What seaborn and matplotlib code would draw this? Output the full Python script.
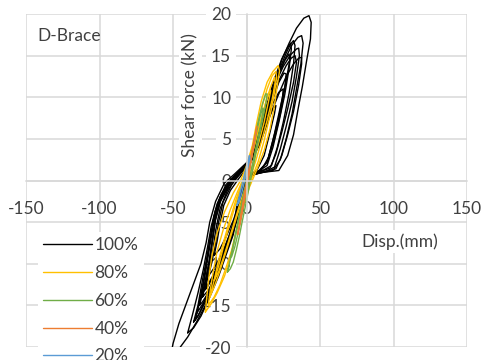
import matplotlib
matplotlib.use("Agg")
import matplotlib.pyplot as plt
import seaborn as sns
import pandas as pd

# ---------------- data ----------------
levels = ["100%", "80%", "60%", "40%", "20%"]
colors = ["#000000", "#FFC000", "#70AD47", "#ED7D31", "#5B9BD5"]

x_ticks = [-150, -100, -50, 0, 50, 100, 150]
y_ticks = [-20, -15, -10, -5, 0, 5, 10, 15, 20]

# 100% cycles (displacement mm / shear force kN)
d100_1 = [-52, -50, -46, -41, -36, -31, -27.5, -25, -21, -15, -8, -2, 4, 8, 12, 16, 20, 24, 29, 34,
          39, 42.5, 44, 43.5, 41, 38, 35, 32, 28, 22, 12, 3, -3, -6, -8.5, -12, -17, -22, -28, -34,
          -40, -45, -49, -52]
f100_1 = [-21.5, -19.6, -17.2, -14.8, -12.4, -10, -7.5, -5, -2.5, -0.3, 0.8, 1.8, 2.8, 4.5, 7, 9.5, 12, 14.5, 16.5, 18.3,
          19.5, 19.8, 19, 17, 14.5, 11.3, 8.5, 5.5, 3, 1.2, 1, 0.7, -0.5, -2.5, -5, -7.5, -10, -12.5, -15, -17,
          -18.8, -20, -21.3, -21.5]
d100_2 = [-40, -37, -33, -29.5, -26.5, -24, -20, -14, -7, 0, 6, 11, 16, 21, 26, 31, 35, 37.5,
          38.5, 37, 34, 31, 27, 23, 18, 9, 1, -3, -5.5, -9, -14, -19, -25, -31, -36, -40]
f100_2 = [-18.3, -16.3, -13.5, -10.8, -8, -5.5, -2.8, -0.5, 0.8, 2, 4.2, 7.2, 10, 12.5, 14.5, 16.3, 17.2, 17.4,
          16.5, 14, 11, 8, 5, 2.5, 1.2, 0.9, 0.5, -1, -3.5, -6.5, -9, -11.5, -14, -16.3, -17.7, -18.3]
d100_3 = [-36, -33, -30, -27, -24.5, -22, -18, -12, -5, 1, 6, 10, 15, 20, 25, 30, 34, 35.5,
          36, 34, 31, 27, 23, 19, 13, 6, 0, -3, -6, -10, -16, -22, -28, -33, -36]
f100_3 = [-17, -15, -12, -9.3, -6.7, -4.3, -2, -0.2, 1, 2.2, 4, 6.5, 9.3, 11.8, 13.7, 15.1, 15.8, 15.9,
          15, 12.5, 9.5, 6.5, 3.8, 1.6, 1.1, 0.8, 0.3, -1.4, -4, -6.8, -9.6, -12.3, -14.6, -16.3, -17]
d100_4 = [-34, -31, -28, -25.5, -23, -20, -14, -8, -2, 3, 8, 13, 18, 23, 27, 30, 32,
          33, 32, 29, 25, 21, 17, 11, 4, -1, -4, -7, -11, -17, -23, -29, -34]
f100_4 = [-16, -14, -11.2, -8.5, -5.8, -3.2, -1, 0.5, 1.5, 2.6, 5.2, 8.4, 11.2, 13.6, 15.3, 16.4, 16.8,
          16.2, 14, 10.5, 7, 4, 1.8, 1.2, 0.8, 0, -2, -4.3, -6.8, -9.5, -12.2, -14.6, -16]
d100_5 = [-32, -29, -26, -23.5, -21.5, -18, -12, -6, 0, 4, 9, 14, 19, 24, 28, 30,
          30.5, 29, 26, 22, 18, 14, 8, 2, -2, -5, -9, -13, -19, -25, -30, -32]
f100_5 = [-15, -13, -10.3, -7.6, -5, -2.6, -0.6, 0.7, 1.8, 3.2, 6, 9.2, 12.2, 14.6, 16, 16.5,
          15.8, 13.5, 10.3, 7, 4, 1.8, 1.1, 0.6, -0.8, -3, -5.5, -8, -10.8, -13.2, -14.6, -15]
d100_6 = [-28, -25.5, -23, -21, -18, -13, -7, -1, 3, 8, 13, 18, 22, 25.5,
          27, 26, 23, 19, 14, 9, 3, -1, -4, -7.5, -12, -17, -23, -28]
f100_6 = [-13, -11, -8.5, -6, -3.4, -1.2, 0.3, 1.4, 2.4, 4.8, 7.5, 9.8, 11.8, 12.9,
          12.8, 11, 8, 5, 2.2, 1.2, 0.8, 0, -2, -4.3, -6.8, -9.2, -11.5, -13]
d100_7 = [-30, -27.5, -25, -23, -21, -17.5, -11, -4, 2, 9, 15, 21, 27, 32, 35.5, 37.5,
          37.5, 35.5, 32, 28, 24, 20, 13, 5, 0, -3.5, -6.5, -11, -16, -21, -26, -30]
f100_7 = [-14, -12.2, -9.6, -7, -4.6, -2.4, -0.4, 1, 2.1, 4.3, 7.3, 10, 12.5, 14, 14.7, 14.8,
          14, 11.5, 8.3, 5.5, 3, 1.4, 1.1, 0.7, 0, -2.3, -4.8, -7.2, -9.6, -11.7, -13.2, -14]
d100_8 = [-22, -20, -18, -15.5, -11, -5, 0, 5, 10, 15, 18, 20,
          19, 16, 12, 7, 1, -2, -5, -9, -14, -18, -22]
f100_8 = [-9, -7.3, -5.2, -3, -1.2, 0.3, 1.4, 2.8, 5.2, 7.5, 8.7, 9,
          8, 5.8, 3, 1.2, 0.6, -0.8, -2.8, -4.8, -6.8, -8.2, -9]
d100_9 = [-30, -27.5, -25, -23, -21, -18, -12, -5, 1, 7, 12, 17, 22, 27, 30.5, 33,
          34, 32, 28, 24, 20, 16, 10, 3, -1, -4, -7, -11, -17, -22, -27, -30]
f100_9 = [-13.5, -11.6, -9.4, -6.8, -4.4, -2.2, -0.3, 1, 2, 4, 6.9, 9.7, 12, 13.8, 14.7, 15,
          14.2, 11.8, 8.6, 5.8, 3.2, 1.5, 1.1, 0.6, -0.5, -2.6, -4.4, -6.8, -9.4, -11.4, -12.9, -13.5]
d100_10 = [-26, -23.5, -21, -19, -16, -10, -4, 2, 8, 13, 18, 22, 25,
           24.5, 22, 18, 14, 8, 2, -2, -4.5, -7.5, -12, -17, -22, -26]
f100_10 = [-11.5, -9.8, -7.4, -5, -2.6, -0.5, 0.9, 2, 4.2, 7, 9.3, 10.6, 11,
           10, 7.6, 4.8, 2.2, 1.1, 0.7, -0.3, -2.4, -4.3, -6.7, -8.9, -10.5, -11.5]
d100_11 = [-35, -32, -29, -26.5, -24, -21.5, -17, -10, -3, 2, 7, 12, 17, 22, 26, 29,
           29.5, 27, 23, 19, 15, 10, 4, -1, -3.5, -6.5, -11, -17, -23, -28, -32, -35]
f100_11 = [-16.8, -14.6, -11.8, -9, -6.3, -3.8, -1.6, 0, 1.2, 2.2, 4.6, 7.6, 10.4, 12.8, 14.4, 15.2,
           14.5, 12, 8.8, 5.6, 2.8, 1.2, 0.8, 0.2, -1.8, -4, -6.4, -9.2, -12, -14.3, -15.9, -16.8]

# 80% cycles
d80_1 = [-28, -27, -25.5, -23.5, -20, -15, -9, -4, 0, 4, 7, 10, 14, 18, 21.5, 22.5, 21, 19, 16, 12,
         7, 2, -1.5, -5, -8, -11, -15, -20, -24, -28]
f80_1 = [-15.8, -14, -11.5, -9, -6.3, -3.8, -1.5, 0, 1.8, 4.2, 7, 9.5, 11.8, 13.1, 13.8, 13.2, 11.5, 9, 6.2, 3.6,
         1.3, -0.8, -2.8, -4.8, -7, -9.3, -11.5, -13.5, -14.8, -15.8]
d80_2 = [-25, -22, -19, -15, -11, -7, -3, 1, 5, 9, 13, 16.5, 19, 19.5, 17.5, 14, 10, 6, 2, -2,
         -6, -10, -14, -18, -22, -25]
f80_2 = [-14, -12, -9.6, -7, -4.5, -2.2, -0.3, 1.6, 4, 6.8, 9.3, 11.3, 12.4, 11.8, 9.8, 7.2, 4.6, 2.2, 0, -2,
         -4, -6.3, -8.6, -10.8, -12.8, -14]
d80_3 = [-22, -19, -16, -12, -8, -4, 0, 4, 8, 12, 15, 16.5, 15, 12, 8, 4, 0, -4, -8, -12,
         -16, -19, -22]
f80_3 = [-12, -10.3, -8.2, -5.6, -3.2, -1, 0.8, 3.2, 6, 8.7, 10.5, 10.8, 9.5, 7, 4.3, 1.8, -0.4, -2.5, -4.8, -7.2,
         -9.4, -11, -12]
d80_4 = [-26, -24.5, -22.5, -20, -16, -11, -6, -2, 2, 6, 10, 14, 17.5, 20, 20.5, 19, 16, 12, 8, 3,
         -1, -4, -7, -10, -14, -18, -22, -26]
f80_4 = [-15, -13, -10.8, -8.5, -6, -3.5, -1.3, 0.3, 2.5, 5.5, 8.5, 11, 12.6, 13.1, 12.4, 10.5, 7.8, 4.8, 2.3, 0,
         -1.8, -3.8, -6, -8.3, -10.5, -12.5, -14, -15]

# 60% cycles
d60_1 = [-13, -11, -9, -7, -5, -3, -1, 1, 3, 5, 7, 9, 11, 13, 14, 13, 11, 9, 7, 5,
         3, 1, -1, -3, -5, -7, -9, -11, -13]
f60_1 = [-11, -9.5, -7.8, -6, -4.2, -2.5, -0.8, 0.9, 2.8, 4.6, 6.3, 7.9, 9.3, 10.4, 10.4, 9, 7.3, 5.6, 3.8, 2,
         0.3, -1.5, -3.3, -5, -6.8, -8.4, -9.8, -10.6, -11]
d60_2 = [-11, -9, -7, -5, -3, -1, 1, 3, 5, 7, 9, 11, 11.5, 10, 8, 6, 4, 2, 0, -2,
         -4, -6, -8, -10, -11]
f60_2 = [-9.3, -7.8, -6.2, -4.5, -2.8, -1.1, 0.6, 2.4, 4.2, 5.9, 7.5, 8.7, 8.5, 7, 5.3, 3.6, 1.9, 0.2, -1.5, -3.2,
         -4.9, -6.5, -8, -9.1, -9.3]

# 40% cycles
d40_1 = [-6, -4.5, -3, -1.5, 0, 1.5, 3, 4.5, 6, 7, 6.5, 5, 3.5, 2, 0.5, -1, -2.5, -4, -5.5, -6]
f40_1 = [-6.5, -5.2, -3.8, -2.4, -1, 0.6, 2.2, 3.8, 5.4, 6.5, 5.8, 4.4, 2.9, 1.4, -0.1, -1.6, -3.1, -4.6, -6, -6.5]
d40_2 = [-4.5, -3, -1.5, 0, 1.5, 3, 4.5, 5.5, 4.5, 3, 1.5, 0, -1.5, -3, -4.5]
f40_2 = [-5, -3.7, -2.3, -0.9, 0.7, 2.3, 3.9, 5, 4.2, 2.8, 1.3, -0.2, -1.7, -3.3, -5]

# 20% cycle
d20_1 = [-6.5, -5.5, -4, -2.5, -1, 0.5, 2, 2.3, 1, -0.5, -2, -3.5, -5, -6.5]
f20_1 = [-3, -2.3, -1.2, -0.1, 1, 2, 3, 2.6, 1.6, 0.5, -0.6, -1.7, -2.6, -3]

cycles = {
    "100%": [(d100_1, f100_1), (d100_2, f100_2), (d100_3, f100_3), (d100_4, f100_4),
             (d100_5, f100_5), (d100_6, f100_6), (d100_7, f100_7), (d100_8, f100_8),
             (d100_9, f100_9), (d100_10, f100_10), (d100_11, f100_11)],
    "80%": [(d80_1, f80_1), (d80_2, f80_2), (d80_3, f80_3), (d80_4, f80_4)],
    "60%": [(d60_1, f60_1), (d60_2, f60_2)],
    "40%": [(d40_1, f40_1), (d40_2, f40_2)],
    "20%": [(d20_1, f20_1)],
}

rows = []
for lev in levels:
    for ci, (dd, ff) in enumerate(cycles[lev]):
        for a, b in zip(dd, ff):
            rows.append({"disp": a, "force": b, "level": lev, "cycle": f"{lev}-{ci}"})
df = pd.DataFrame(rows)

# ---------------- figure ----------------
sns.set_theme(style="white")
plt.rcParams["font.family"] = ["Lato", "DejaVu Sans"]
txt_color = "#404040"
FS = 12.5
grid_c = "#d9d9d9"

fig = plt.figure(figsize=(4.84, 3.6), dpi=100)
ax = fig.add_axes([26 / 484, 13 / 360, 441 / 484, 333 / 360])

sns.lineplot(data=df, x="disp", y="force", hue="level", units="cycle", estimator=None,
             sort=False, hue_order=levels, palette=dict(zip(levels, colors)),
             linewidth=1.0, ax=ax, legend=True)

ax.set_xlim(-150, 150)
ax.set_ylim(-20, 20)
ax.set_xticks(x_ticks)
ax.set_yticks(y_ticks)
ax.set_xticklabels([str(v) for v in x_ticks])
ax.set_yticklabels([str(v) for v in y_ticks])
ax.grid(True, color=grid_c, linewidth=1.1)
ax.set_axisbelow(True)
for s in ["top", "right"]:
    ax.spines[s].set_visible(False)
for s in ["left", "bottom"]:
    ax.spines[s].set_position(("data", 0))
    ax.spines[s].set_color(grid_c)
    ax.spines[s].set_linewidth(1.1)
ax.tick_params(axis="both", length=0, labelsize=FS, labelcolor=txt_color)
ax.tick_params(axis="y", pad=11)
ax.tick_params(axis="x", pad=15)
for lbl in ax.get_yticklabels():
    lbl.set_bbox(dict(facecolor="white", edgecolor="none", boxstyle="square,pad=0.3"))
ax.set_xlabel("")
ax.set_ylabel("")

ax.text(-38, 10.3, "Shear force (kN)", rotation=90, ha="center", va="center",
        fontsize=FS, color=txt_color,
        bbox=dict(facecolor="white", edgecolor="none", boxstyle="square,pad=0.2"))
ax.text(104, -7.3, "Disp.(mm)", ha="center", va="center", fontsize=FS, color=txt_color,
        bbox=dict(facecolor="white", edgecolor="none", boxstyle="square,pad=0.2"))
ax.text(-142, 17.3, "D-Brace", ha="left", va="center", fontsize=FS, color=txt_color)

handles, labels = ax.get_legend_handles_labels()
leg = ax.legend(handles, labels, loc="upper left", bbox_to_anchor=(38 / 484, 1 - 232 / 360),
                bbox_transform=fig.transFigure, frameon=True, facecolor="white",
                edgecolor="none", framealpha=1, fontsize=FS, handlelength=2.8,
                handletextpad=0.15, labelspacing=0.68, borderpad=0.3, borderaxespad=0)
for t in leg.get_texts():
    t.set_color(txt_color)
for h in leg.get_lines():
    h.set_linewidth(1.0)

fig.savefig("out.png", dpi=100)
